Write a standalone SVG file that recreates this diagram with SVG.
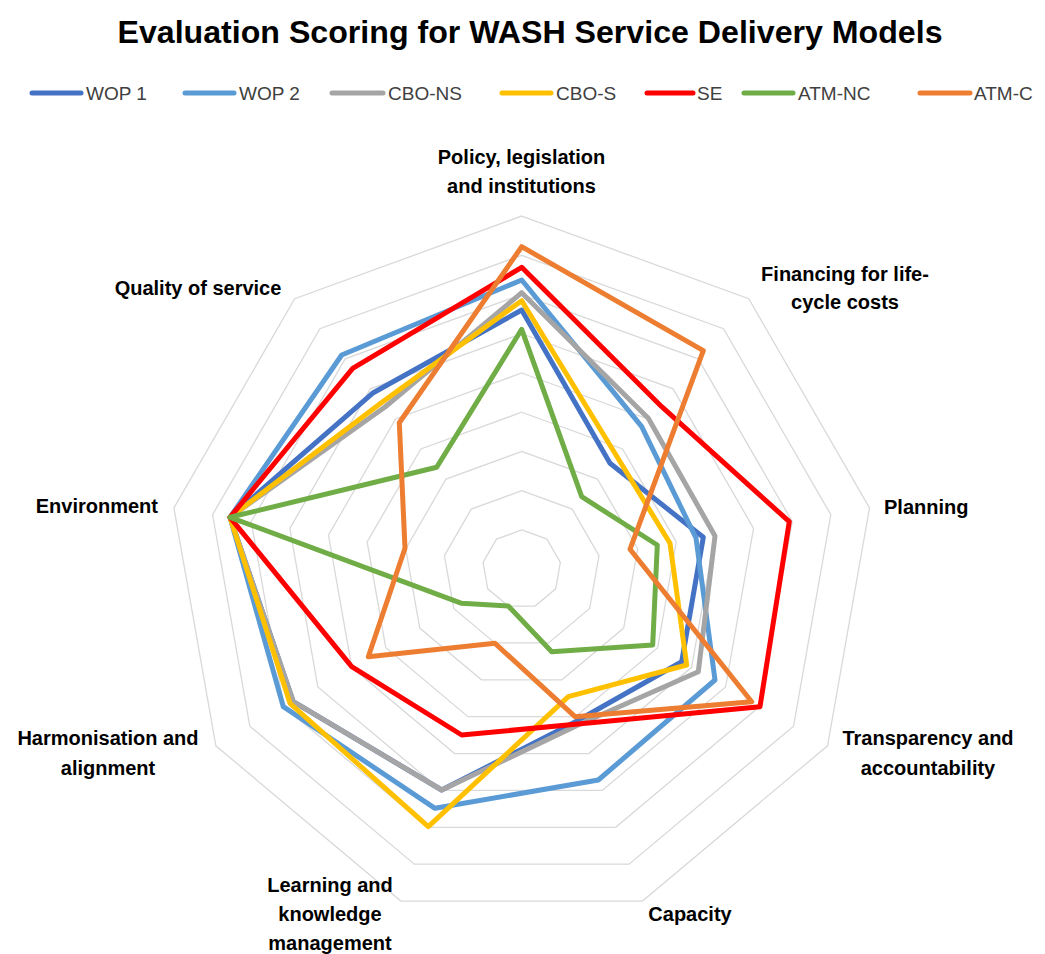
<svg xmlns="http://www.w3.org/2000/svg" width="1045" height="954" viewBox="0 0 1045 954">
<style>
.bg{fill:#ffffff}
.ring{fill:none;stroke:#D9D9D9;stroke-width:1.3}
.s{fill:none;stroke-width:5;stroke-linejoin:round;stroke-linecap:round}
.lg{stroke-width:5;stroke-linecap:round}
.t{font-family:"Liberation Sans",Arial,sans-serif;font-weight:bold;font-size:32px;fill:#000}
.lab{font-family:"Liberation Sans",Arial,sans-serif;font-weight:bold;font-size:20px;fill:#000}
.lt{font-family:"Liberation Sans",Arial,sans-serif;font-size:19px;fill:#404040}
.c1{stroke:#4472C4}.c2{stroke:#5B9BD5}.c3{stroke:#A5A5A5}.c4{stroke:#FFC000}.c5{stroke:#FF0000}.c6{stroke:#70AD47}.c7{stroke:#ED7D31}
</style>
<rect class="bg" x="0" y="0" width="1045" height="954"/>
<g id="title">
<text class="t" x="530" y="43" text-anchor="middle" textLength="825" lengthAdjust="spacingAndGlyphs">Evaluation Scoring for WASH Service Delivery Models</text>
</g>
<g id="legend">
<line class="lg c1" x1="32" y1="93" x2="81" y2="93"/><text class="lt" x="86" y="100">WOP 1</text>
<line class="lg c2" x1="185" y1="93" x2="234" y2="93"/><text class="lt" x="239" y="100">WOP 2</text>
<line class="lg c3" x1="332" y1="93" x2="383" y2="93"/><text class="lt" x="388" y="100">CBO-NS</text>
<line class="lg c4" x1="502" y1="93" x2="551" y2="93"/><text class="lt" x="556" y="100">CBO-S</text>
<line class="lg c5" x1="647" y1="93" x2="693" y2="93"/><text class="lt" x="697" y="100">SE</text>
<line class="lg c6" x1="744" y1="93" x2="793" y2="93"/><text class="lt" x="798" y="100">ATM-NC</text>
<line class="lg c7" x1="920" y1="93" x2="970" y2="93"/><text class="lt" x="974" y="100">ATM-C</text>
</g>
<g id="grid" transform="translate(521.7,569.2)">
<polygon class="ring" points="0,-39.24 25.22,-30.06 38.64,-6.81 33.98,19.62 13.42,36.87 -13.42,36.87 -33.98,19.62 -38.64,-6.81 -25.22,-30.06"/>
<polygon class="ring" points="0,-78.48 50.45,-60.12 77.29,-13.62 67.96,39.24 26.84,73.75 -26.84,73.75 -67.96,39.24 -77.29,-13.62 -50.45,-60.12"/>
<polygon class="ring" points="0,-117.72 75.67,-90.17 115.93,-20.44 101.95,58.86 40.26,110.62 -40.26,110.62 -101.95,58.86 -115.93,-20.44 -75.67,-90.17"/>
<polygon class="ring" points="0,-156.96 100.89,-120.23 154.57,-27.25 135.93,78.48 53.68,147.5 -53.68,147.5 -135.93,78.48 -154.57,-27.25 -100.89,-120.23"/>
<polygon class="ring" points="0,-196.2 126.12,-150.29 193.22,-34.06 169.91,98.1 67.1,184.37 -67.1,184.37 -169.91,98.1 -193.22,-34.06 -126.12,-150.29"/>
<polygon class="ring" points="0,-235.44 151.34,-180.35 231.86,-40.87 203.89,117.72 80.52,221.24 -80.52,221.24 -203.89,117.72 -231.86,-40.87 -151.34,-180.35"/>
<polygon class="ring" points="0,-274.68 176.56,-210.4 270.51,-47.68 237.88,137.34 93.94,258.12 -93.94,258.12 -237.88,137.34 -270.51,-47.68 -176.56,-210.4"/>
<polygon class="ring" points="0,-313.92 201.79,-240.46 309.15,-54.5 271.86,156.96 107.36,294.99 -107.36,294.99 -271.86,156.96 -309.15,-54.5 -201.79,-240.46"/>
<polygon class="ring" points="0,-353.16 227.01,-270.52 347.79,-61.31 305.84,176.58 120.78,331.86 -120.78,331.86 -305.84,176.58 -347.79,-61.31 -227.01,-270.52"/>
</g>
<g id="axis-labels">
<g id="label-policy"><text class="lab" x="521.5" y="164" text-anchor="middle">Policy, legislation</text><text class="lab" x="521.5" y="193" text-anchor="middle">and institutions</text></g>
<g id="label-financing"><text class="lab" x="845" y="281" text-anchor="middle">Financing for life-</text><text class="lab" x="845" y="309" text-anchor="middle">cycle costs</text></g>
<g id="label-planning"><text class="lab" x="884" y="514">Planning</text></g>
<g id="label-transparency"><text class="lab" x="928" y="745" text-anchor="middle">Transparency and</text><text class="lab" x="928" y="775" text-anchor="middle">accountability</text></g>
<g id="label-capacity"><text class="lab" x="690" y="921" text-anchor="middle">Capacity</text></g>
<g id="label-learning"><text class="lab" x="330" y="892" text-anchor="middle">Learning and</text><text class="lab" x="330" y="921" text-anchor="middle">knowledge</text><text class="lab" x="330" y="950" text-anchor="middle">management</text></g>
<g id="label-harmonisation"><text class="lab" x="108" y="745" text-anchor="middle">Harmonisation and</text><text class="lab" x="108" y="775" text-anchor="middle">alignment</text></g>
<g id="label-environment"><text class="lab" x="158" y="513" text-anchor="end">Environment</text></g>
<g id="label-quality"><text class="lab" x="198" y="295" text-anchor="middle">Quality of service</text></g>
</g>
<g id="series">
<g id="s-wop1"><polygon class="s c1" points="521.7,310 610,463.3 703.3,537.3 681.7,661.7 577,721 441.7,790 293.3,701.7 230,517.3 373.3,392.7"/></g>
<g id="s-wop2"><polygon class="s c2" points="521.7,280 641.7,426.7 696,538 715,680 598.3,780 435,808.3 283.3,706.7 230,517.3 341.7,355"/></g>
<g id="s-cbons"><polygon class="s c3" points="521.7,292.7 648.3,418.3 715,536 698.3,671.7 578,725 441.7,790 293.3,701.7 230,517.3 385,407"/></g>
<g id="s-cbos"><polygon class="s c4" points="521.7,300.7 616.6,456 670,543.3 686.7,665 568.3,696.7 428.3,826.7 290,703.3 230,517.3 381,403"/></g>
<g id="s-se"><polygon class="s c5" points="521.7,267.3 661.7,406.7 789.3,521.7 760,706.7 578,724 461.7,735 351.7,666.7 230,517.3 352.7,368.3"/></g>
<g id="s-atmnc"><polygon class="s c6" points="521.7,329.3 581.7,496.7 657.3,545 652.7,645 551.7,651.7 508.3,606 461.7,603.3 230,517.3 436.7,467.3"/></g>
<g id="s-atmc"><polygon class="s c7" points="521.7,246.7 703.3,350.7 630,549.3 751.7,701.7 575,716.7 495,643.3 368.3,656.7 405,548.3 399.3,422.7"/></g>
</g>
</svg>
